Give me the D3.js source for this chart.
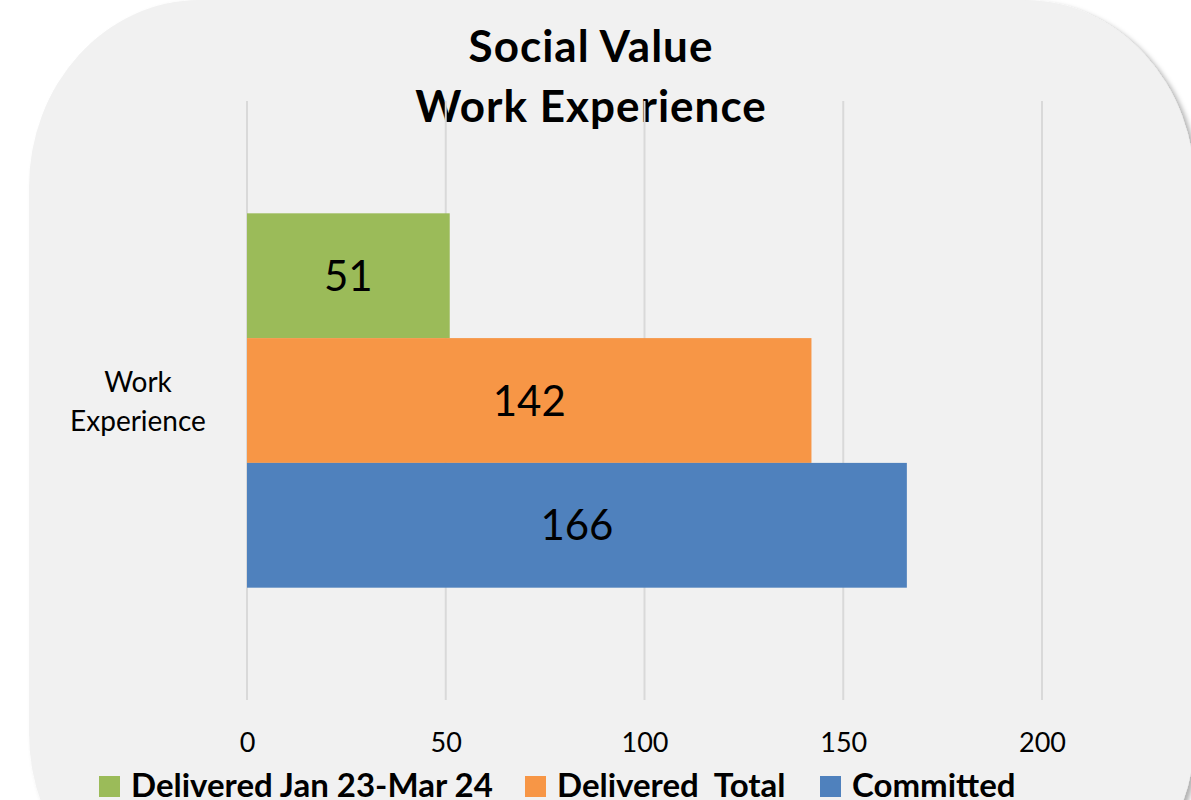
<!DOCTYPE html>
<html>
  <head>
	<meta charset="UTF-8">
    <title>Social Value - Work Experience</title>
	<script type="text/javascript" src="https://cdn.jsdelivr.net/npm/d3@7"></script>
	<style>
		body { margin: 0; background: #ffffff; }
		svg { display: block; font-family: Lato, "Open Sans", sans-serif; }
	</style>
  </head>
  <body>
    <svg width="1191" height="800"></svg>
    <script>
    	// data
    	var categories = ["Work Experience"];
    	var seriesNames = ["Delivered Jan 23-Mar 24", "Delivered  Total", "Committed"];
    	var seriesValues = [51, 142, 166];
    	var seriesColors = ["#9bbb59", "#f79646", "#4f81bd"];
    	var tickValues = [0, 50, 100, 150, 200];

    	var svg = d3.select("svg");

    	// shadow for the card
    	var defs = svg.append("defs");
    	var f = defs.append("filter").attr("id", "shadow")
    		.attr("x", "-10%").attr("y", "-10%").attr("width", "130%").attr("height", "130%");
    	f.append("feDropShadow")
    		.attr("dx", 4).attr("dy", 3).attr("stdDeviation", 2.5)
    		.attr("flood-color", "#000").attr("flood-opacity", 0.3);

    	// card background
    	svg.append("rect")
    		.attr("x", 29).attr("y", 0)
    		.attr("width", 1166).attr("height", 920)
    		.attr("rx", 171).attr("ry", 187)
    		.attr("fill", "#f1f1f1")
    		.attr("filter", "url(#shadow)");

    	// title
    	var title = svg.append("text")
    		.attr("text-anchor", "middle")
    		.attr("font-weight", "bold")
    		.attr("font-size", 44)
    		.attr("letter-spacing", 1)
    		.attr("fill", "#000");
    	title.append("tspan").attr("x", 591).attr("y", 62).text("Social Value");
    	title.append("tspan").attr("x", 591).attr("y", 122).text("Work Experience");

    	var plot = {top: 101, bottom: 700, left: 247, right: 1042};

    	var x = d3.scaleLinear()
    		.domain([0, 200])
    		.range([plot.left, plot.right]);

    	var y0 = d3.scaleBand()
    		.domain(categories)
    		.range([plot.top, plot.bottom])
    		.paddingInner(0)
    		.paddingOuter(0.3);

    	var y1 = d3.scaleBand()
    		.domain(seriesNames)
    		.range([0, y0.bandwidth()]);

    	// gridlines
    	svg.append("g")
    		.selectAll("line")
    		.data(tickValues)
    		.enter()
    		.append("line")
    		.attr("x1", function(d){ return x(d); })
    		.attr("x2", function(d){ return x(d); })
    		.attr("y1", plot.top)
    		.attr("y2", plot.bottom)
    		.attr("stroke", "#d9d9d9")
    		.attr("stroke-width", 2);

    	// x axis labels
    	var xAxis = d3.axisBottom(x).tickValues(tickValues).tickSize(0).tickPadding(0);
    	var ax = svg.append("g")
    		.attr("transform", "translate(0,752)")
    		.call(xAxis);
    	ax.select(".domain").remove();
    	ax.selectAll("text")
    		.attr("dy", 0)
    		.attr("font-family", "Lato, 'Open Sans', sans-serif")
    		.attr("font-size", 27)
    		.attr("fill", "#000");

    	// category label
    	categories.forEach(function(c){
    		var cy = y0(c) + y0.bandwidth() / 2;
    		var t = svg.append("text")
    			.attr("text-anchor", "middle")
    			.attr("font-size", 28)
    			.attr("fill", "#000");
    		var words = c.split(" ");
    		t.append("tspan").attr("x", 138).attr("y", cy - 9).text(words[0]);
    		t.append("tspan").attr("x", 138).attr("y", cy + 30).text(words[1]);
    	});

    	// bars
    	var rows = seriesNames.map(function(s, i){
    		return {cat: categories[0], name: s, value: seriesValues[i], color: seriesColors[i]};
    	});

    	var bars = svg.append("g")
    		.selectAll("g")
    		.data(rows)
    		.enter()
    		.append("g");

    	bars.append("rect")
    		.attr("x", x(0))
    		.attr("y", function(d){ return y0(d.cat) + y1(d.name); })
    		.attr("width", function(d){ return x(d.value) - x(0); })
    		.attr("height", y1.bandwidth())
    		.attr("fill", function(d){ return d.color; });

    	bars.append("text")
    		.attr("x", function(d){ return (x(0) + x(d.value)) / 2; })
    		.attr("y", function(d){ return y0(d.cat) + y1(d.name) + y1.bandwidth() / 2; })
    		.attr("dy", "0.36em")
    		.attr("text-anchor", "middle")
    		.attr("font-size", 42)
    		.attr("fill", "#000")
    		.text(function(d){ return d.value; });

    	// legend
    	var legendX = [99, 525, 820];
    	var legend = svg.append("g")
    		.selectAll("g")
    		.data(rows)
    		.enter()
    		.append("g")
    		.attr("transform", function(d, i){ return "translate(" + legendX[i] + ",776)"; });
    	legend.append("rect")
    		.attr("width", 21).attr("height", 21)
    		.attr("fill", function(d){ return d.color; });
    	legend.append("text")
    		.attr("x", 32).attr("y", 21)
    		.attr("font-weight", "bold")
    		.attr("font-size", 33)
    		.attr("fill", "#000")
    		.style("white-space", "pre")
    		.text(function(d){ return d.name; });
    </script>
  </body>
</html>
